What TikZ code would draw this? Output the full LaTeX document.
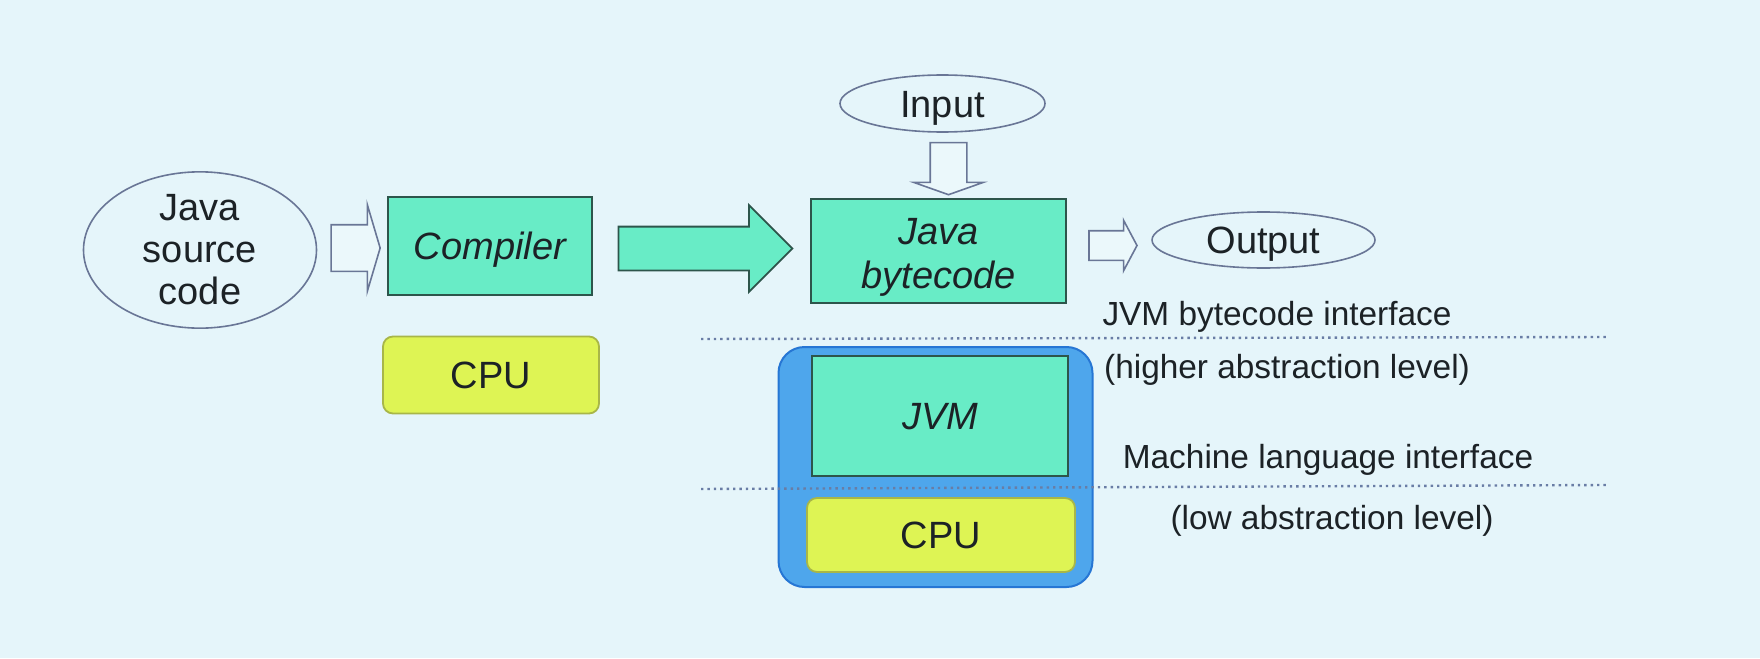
\documentclass[tikz,border=0pt]{standalone}
\usepackage{fontspec}
\setmainfont{Liberation Sans}
\usepackage{tikz}
\usetikzlibrary{shapes.geometric,shapes.arrows,calc}

\definecolor{slidebg}{RGB}{229,245,250}
\definecolor{mint}{RGB}{104,236,198}
\definecolor{mintline}{RGB}{45,85,75}
\definecolor{lime}{RGB}{222,244,84}
\definecolor{limeline}{RGB}{168,182,72}
\definecolor{chip}{RGB}{78,166,236}
\definecolor{chipline}{RGB}{38,118,212}
\definecolor{outline}{RGB}{105,118,150}
\definecolor{dots}{RGB}{105,125,165}
\definecolor{ink}{RGB}{28,34,38}

\tikzstyle{bigtext} = [font=\fontsize{19}{21}\selectfont, text=ink]
\tikzstyle{capcentre} = [text height=13.6pt, text depth=0pt]
\tikzstyle{bubble} = [draw=outline, line width=0.8pt, ellipse, inner sep=0pt, bigtext]
\tikzstyle{greenbox} = [draw=mintline, fill=mint, line width=0.9pt,
    rectangle, inner sep=0pt, bigtext, font=\fontsize{19}{22}\selectfont\itshape]
\tikzstyle{cpubox} = [draw=limeline, fill=lime, line width=0.9pt,
    rectangle, rounded corners=5pt, inner sep=0pt, bigtext]
\tikzstyle{hollowarrow} = [single arrow, draw=outline, fill=white!25!slidebg,
    line width=0.8pt, inner xsep=0pt]
\tikzstyle{fatarrow} = [single arrow, draw=mintline, fill=mint,
    line width=0.9pt, inner xsep=0pt]
\tikzstyle{layerline} = [draw=dots, dotted, line width=1.2pt]
\tikzstyle{levelnote} = [font=\fontsize{16.7}{18}\selectfont, text=ink, inner sep=0pt]

\begin{document}
\begin{tikzpicture}[x=0.5pt, y=-0.5pt]
\fill[slidebg] (0,0) rectangle (1760,658);
\useasboundingbox (0,0) rectangle (1760,658);

% compile step
\node[bubble, minimum width=116.5pt, minimum height=77pt, align=center] (src) at (200,250) {Java\\source\\code};
\node[greenbox, capcentre, minimum width=102pt, minimum height=49pt] (comp) at (490,246) {Compiler};
\node[cpubox, capcentre, minimum width=108pt, minimum height=38.5pt] (cpu1) at (491,375) {CPU};

% run step
\node[greenbox, minimum width=127.5pt, minimum height=52pt, align=center] (bc) at (938.5,251) {\rule{0pt}{19.2pt}Java\\bytecode};
\node[bubble, capcentre, minimum width=102.5pt, minimum height=28.5pt] (in) at (942.5,103.5) {Input};
\node[bubble, capcentre, minimum width=111.5pt, minimum height=28pt] (out) at (1263.5,240) {Output};

\node[draw=chipline, fill=chip, line width=1pt, rounded corners=13pt,
    minimum width=157pt, minimum height=120pt] (host) at (935.5,467) {};
\node[greenbox, capcentre, minimum width=128pt, minimum height=60pt] (jvm) at (940,416) {JVM};
\node[cpubox, capcentre, minimum width=134pt, minimum height=37pt] (cpu2) at (941,535) {CPU};

% block arrows
\node[hollowarrow, minimum height=24.5pt, minimum width=42.5pt, inner ysep=11.25pt,
    single arrow head extend=10pt, single arrow tip angle=147] (a1)
    at ($(src.east)!0.5!(comp.west)$) {};
\node[fatarrow, minimum height=87pt, minimum width=42.5pt, inner ysep=10.5pt,
    single arrow head extend=10.75pt, single arrow tip angle=90] (a2)
    at ($(comp.east)!0.5!(bc.west)+(-7,0)$) {};
\node[hollowarrow, minimum height=26pt, minimum width=34pt, inner xsep=8.75pt, inner ysep=0pt,
    shape border rotate=270,
    single arrow head extend=8.25pt, single arrow tip angle=141] (a3)
    at ($(in.south)!0.5!(bc.north)+(8,0)$) {};
\node[hollowarrow, minimum height=24pt, minimum width=24.5pt, inner ysep=7pt,
    single arrow head extend=5.25pt, single arrow tip angle=124] (a4)
    at ($(bc.east)!0.5!(out.west)$) {};

% interfaces
\draw[layerline] (701,339) -- (1607,337);
\draw[layerline] (701,489) -- (1607,485);
\node[levelnote] (bcif) at (1277,317) {JVM bytecode interface};
\node[levelnote] (hilvl) at (1287,370) {(higher abstraction level)};
\node[levelnote] (mlif) at (1328,460) {Machine language interface};
\node[levelnote] (lolvl) at (1332,521) {(low abstraction level)};
\end{tikzpicture}
\end{document}
